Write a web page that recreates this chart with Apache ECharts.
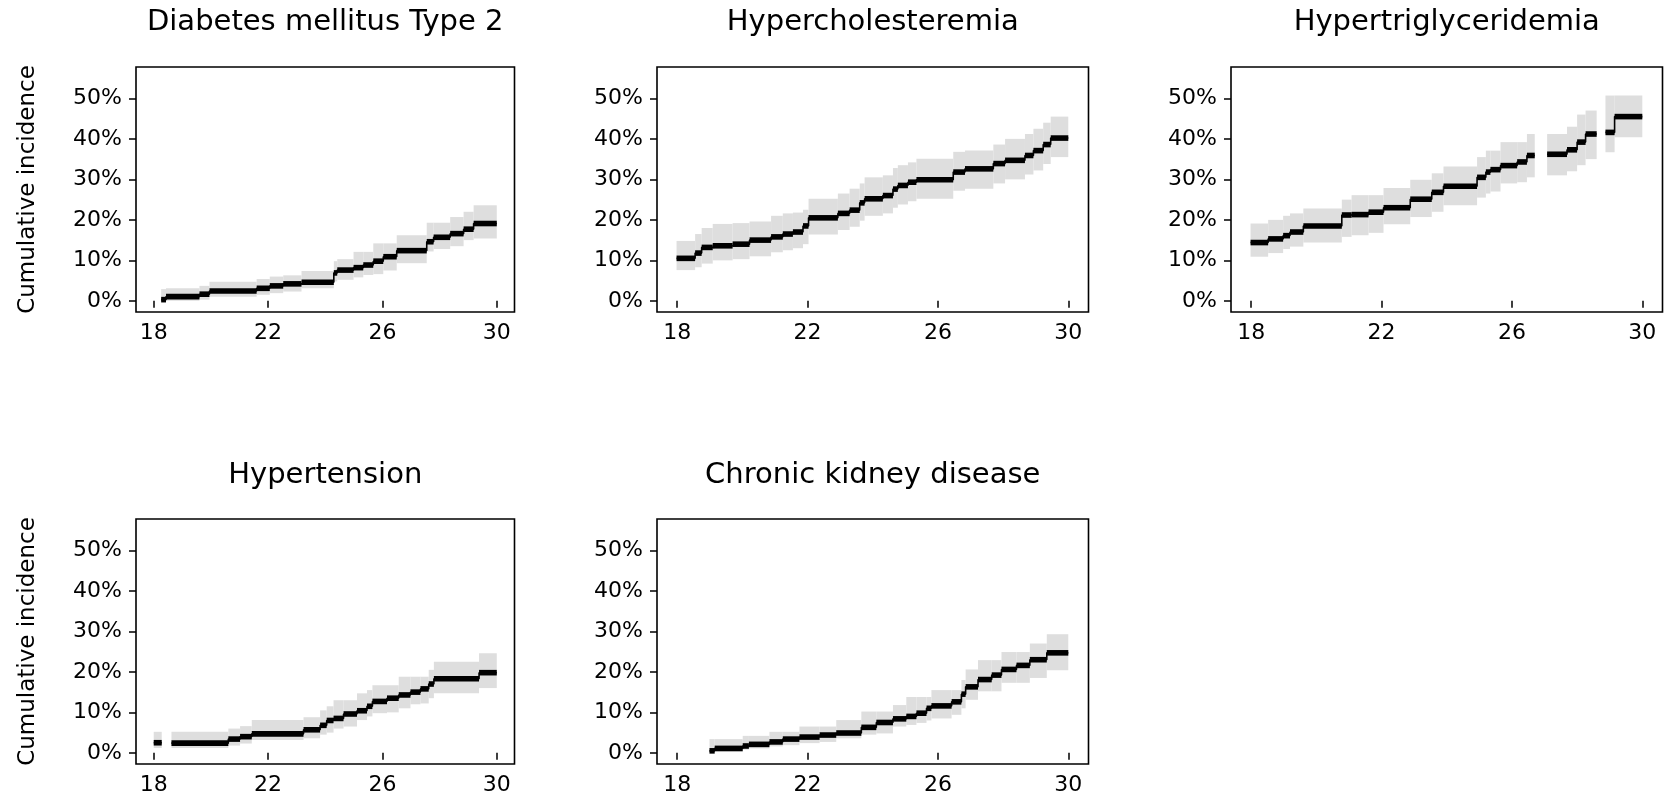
<!DOCTYPE html>
<html>
<head>
<meta charset="utf-8">
<script src="https://cdn.jsdelivr.net/npm/echarts@6/dist/echarts.min.js"></script>
<style>
html,body{margin:0;padding:0;background:#fff;}
#chart{width:1665px;height:801px;}
</style>
</head>
<body>
<div id="chart"></div>
<script>
// ---------------- DATA ----------------
const panelTitles = ["Diabetes mellitus Type 2", "Hypercholesteremia", "Hypertriglyceridemia", "Hypertension", "Chronic kidney disease"];
const yAxisTitle = "Cumulative incidence";
const xTickValues = [18, 22, 26, 30];
const yTickValues = [0, 10, 20, 30, 40, 50];

// Diabetes mellitus Type 2 (age in years, cumulative incidence in %)
const dmTime = [18.26, 18.43, 19.60, 19.95, 21.60, 22.06, 22.53, 23.17, 24.30, 24.42, 24.99, 25.33, 25.68, 26.03, 26.50, 27.55, 27.79, 28.37, 28.84, 29.19, 30.0];
const dmEst  = [0.3, 1.05, 1.65, 2.45, 3.1, 3.7, 4.2, 4.6, 6.9, 7.6, 8.2, 8.85, 9.8, 10.9, 12.4, 14.6, 15.7, 16.6, 17.7, 19.1, 19.1];
const dmUpper = [2.9, 3.1, 3.7, 4.7, 5.4, 6.0, 6.3, 7.4, 9.8, 10.3, 12.1, 12.1, 14.2, 14.2, 16.2, 19.3, 19.3, 20.7, 22.0, 23.6, 23.6];
const dmLower = [0.0, 0.0, 0.3, 1.0, 1.5, 1.9, 2.3, 3.1, 4.8, 5.2, 5.8, 6.4, 6.6, 7.5, 9.3, 12.2, 12.8, 13.5, 15.0, 15.4, 15.4];

// Hypercholesteremia
const hcTime = [17.98, 18.55, 18.75, 19.09, 19.70, 20.22, 20.88, 21.24, 21.55, 21.86, 22.03, 22.93, 23.29, 23.60, 23.75, 24.31, 24.62, 24.77, 25.08, 25.34, 26.47, 26.83, 27.70, 28.06, 28.67, 28.93, 29.23, 29.46, 30.0];
const hcEst  = [10.5, 11.8, 13.2, 13.6, 14.0, 15.0, 15.8, 16.5, 17.0, 18.5, 20.5, 21.6, 22.4, 24.2, 25.2, 26.0, 27.6, 28.5, 29.3, 29.9, 31.8, 32.6, 33.9, 34.7, 35.9, 37.1, 38.6, 40.2, 40.2];
const hcUpper = [14.8, 16.5, 18.0, 19.0, 19.2, 19.6, 21.0, 21.6, 21.8, 22.5, 25.2, 26.5, 27.7, 29.0, 30.5, 31.0, 32.8, 33.5, 34.2, 35.1, 36.8, 37.1, 38.6, 40.0, 41.2, 42.5, 44.0, 45.5, 45.5];
const hcLower = [7.6, 8.3, 9.2, 10.0, 10.3, 11.0, 12.0, 12.5, 13.0, 14.0, 16.4, 17.5, 18.3, 19.8, 21.0, 21.6, 23.0, 23.8, 24.6, 25.2, 27.2, 27.7, 29.0, 30.0, 31.2, 32.2, 33.8, 35.5, 35.5];

// Hypertriglyceridemia (null = no estimate shown)
const htgTime = [17.98, 18.52, 18.98, 19.19, 19.60, 20.78, 21.08, 21.60, 22.06, 22.88, 23.54, 23.90, 24.93, 25.20, 25.34, 25.65, 26.16, 26.46, 26.70, 27.08, 27.69, 28.00, 28.26, 28.60, 28.87, 29.15, 30.0];
const htgEst  = [14.4, 15.3, 16.1, 17.0, 18.5, 21.2, 21.3, 21.9, 23.0, 25.1, 26.8, 28.3, 30.5, 31.8, 32.4, 33.4, 34.3, 35.9, null, 36.2, 37.3, 39.2, 41.2, null, 41.6, 45.5, 45.5];
const htgUpper = [19.1, 20.0, 21.0, 21.6, 22.8, 25.0, 26.1, 26.1, 27.9, 29.9, 31.5, 33.2, 35.5, 37.1, 37.1, 39.2, 39.2, 41.2, null, 41.2, 43.0, 46.0, 47.0, null, 50.7, 50.7, 50.7];
const htgLower = [10.9, 11.8, 12.8, 13.4, 14.4, 15.8, 16.2, 16.8, 18.9, 20.7, 22.0, 23.6, 25.5, 26.5, 27.0, 29.0, 29.3, 30.5, null, 31.0, 32.0, 33.5, 35.0, null, 36.7, 40.4, 40.4];

// Hypertension
const htnTime = [18.00, 18.28, 18.62, 20.61, 21.02, 21.43, 23.24, 23.82, 24.05, 24.29, 24.64, 25.11, 25.46, 25.65, 26.16, 26.57, 26.98, 27.33, 27.62, 27.80, 29.38, 30.0];
const htnEst  = [2.5, null, 2.4, 3.4, 4.0, 4.7, 5.7, 6.8, 8.0, 8.5, 9.6, 10.4, 11.5, 12.7, 13.5, 14.3, 15.0, 15.8, 17.0, 18.3, 19.8, 19.8];
const htnUpper = [5.2, null, 5.2, 6.0, 6.6, 8.1, 8.8, 10.5, 11.5, 13.0, 13.0, 14.7, 15.5, 16.7, 16.7, 18.8, 18.8, 18.8, 20.5, 22.5, 24.6, 24.6];
const htnLower = [1.2, null, 1.2, 1.8, 2.3, 3.2, 3.6, 4.5, 5.0, 6.0, 6.5, 8.1, 9.0, 9.8, 10.0, 11.0, 12.0, 12.2, 13.5, 14.7, 16.0, 16.0];

// Chronic kidney disease
const ckdTime = [18.99, 19.15, 20.01, 20.20, 20.83, 21.24, 21.75, 22.37, 22.88, 23.65, 24.11, 24.62, 25.03, 25.34, 25.65, 25.80, 26.42, 26.72, 26.85, 27.23, 27.65, 27.95, 28.41, 28.82, 29.34, 30.0];
const ckdEst  = [0.5, 1.1, 1.7, 2.1, 2.7, 3.4, 3.9, 4.4, 4.9, 6.3, 7.5, 8.4, 9.0, 9.8, 11.0, 11.6, 12.6, 14.5, 16.3, 18.1, 19.2, 20.6, 21.6, 23.0, 24.7, 24.7];
const ckdUpper = [3.4, 3.4, 4.2, 4.2, 5.2, 5.2, 6.5, 6.5, 8.1, 10.2, 10.2, 11.8, 13.8, 13.8, 13.8, 15.5, 15.5, 18.0, 20.6, 22.9, 22.9, 24.9, 24.9, 27.0, 29.3, 29.3];
const ckdLower = [0.1, 0.2, 0.8, 1.1, 1.6, 1.9, 2.4, 2.7, 3.6, 4.5, 4.8, 6.5, 6.9, 7.4, 8.0, 8.5, 9.4, 11.0, 13.1, 15.2, 15.2, 17.3, 17.3, 18.5, 20.4, 20.4];

// ---------------- LAYOUT ----------------
const FONT = "DejaVu Sans";
const colLeft = [136, 657, 1231];
const colWidth = [378.5, 431.5, 431.5];
const rowTop = [67, 519];
const boxHeight = 245;
const titleCenterY = [22, 475];

const panels = [
  {title: panelTitles[0], row: 0, col: 0, t: dmTime, v: dmEst, hi: dmUpper, lo: dmLower, yTitle: true},
  {title: panelTitles[1], row: 0, col: 1, t: hcTime, v: hcEst, hi: hcUpper, lo: hcLower, yTitle: false},
  {title: panelTitles[2], row: 0, col: 2, t: htgTime, v: htgEst, hi: htgUpper, lo: htgLower, yTitle: false},
  {title: panelTitles[3], row: 1, col: 0, t: htnTime, v: htnEst, hi: htnUpper, lo: htnLower, yTitle: true},
  {title: panelTitles[4], row: 1, col: 1, t: ckdTime, v: ckdEst, hi: ckdUpper, lo: ckdLower, yTitle: false}
];

function bandRender(params, api) {
  const a = api.coord([api.value(0), api.value(3)]);
  const b = api.coord([api.value(1), api.value(2)]);
  return {type: 'rect', shape: {x: a[0], y: a[1], width: b[0] - a[0], height: b[1] - a[1]},
          style: {fill: '#dedede'}};
}
function thickRender(params, api) {
  const a = api.coord([api.value(0), api.value(2)]);
  const b = api.coord([api.value(1), api.value(2)]);
  return {type: 'rect', shape: {x: a[0], y: a[1] - 2.8, width: b[0] - a[0], height: 5.6},
          style: {fill: '#000'}};
}

const grid = [], xAxis = [], yAxis = [], series = [], title = [];
panels.forEach((p, i) => {
  const left = colLeft[p.col], width = colWidth[p.col], top = rowTop[p.row];
  grid.push({left: left, top: top, width: width, height: boxHeight, show: true,
             borderColor: '#000', borderWidth: 1.6, backgroundColor: 'transparent', containLabel: false});
  xAxis.push({gridIndex: i, type: 'value', min: 17.38, max: 30.62,
    axisLine: {show: false}, splitLine: {show: false},
    axisTick: {show: true, length: 7, lineStyle: {color: '#000', width: 1.5}, customValues: xTickValues},
    axisLabel: {customValues: xTickValues, fontSize: 22, color: '#000', fontFamily: FONT, margin: 10}
  });
  yAxis.push({gridIndex: i, type: 'value', min: -2.75, max: 57.75,
    name: p.yTitle ? yAxisTitle : '', nameLocation: 'middle', nameRotate: 90, nameGap: 96,
    nameTextStyle: {fontSize: 23, color: '#000', fontFamily: FONT},
    axisLine: {show: false}, splitLine: {show: false},
    axisTick: {show: true, length: 7, lineStyle: {color: '#000', width: 1.5}, customValues: yTickValues},
    axisLabel: {customValues: yTickValues, fontSize: 22, color: '#000', fontFamily: FONT, margin: 14,
                formatter: v => v + '%'}
  });
  title.push({text: p.title, left: left + width / 2, top: titleCenterY[p.row] - 17, textAlign: 'center',
    padding: 0,
    textStyle: {fontSize: 29, fontWeight: 'normal', color: '#000', fontFamily: FONT, lineHeight: 34}});

  const band = [], thick = [], stepLine = [];
  for (let k = 0; k < p.t.length; k++) {
    stepLine.push([p.t[k], p.v[k] === null ? '-' : p.v[k]]);
    if (k < p.t.length - 1 && p.v[k] !== null) {
      band.push([p.t[k], p.t[k + 1], p.lo[k], p.hi[k]]);
      thick.push([p.t[k], p.t[k + 1], p.v[k]]);
    }
  }
  series.push({type: 'custom', xAxisIndex: i, yAxisIndex: i, renderItem: bandRender, data: band,
               encode: {x: [0, 1], y: [2, 3]}, silent: true, z: 1});
  series.push({type: 'line', xAxisIndex: i, yAxisIndex: i, data: stepLine, step: 'end', showSymbol: false,
               symbol: 'none', connectNulls: false, lineStyle: {color: '#000', width: 1.6}, silent: true, z: 2});
  series.push({type: 'custom', xAxisIndex: i, yAxisIndex: i, renderItem: thickRender, data: thick,
               encode: {x: [0, 1], y: [2]}, silent: true, z: 3});
});

const chart = echarts.init(document.getElementById('chart'));
chart.setOption({animation: false, backgroundColor: '#fff', title, grid, xAxis, yAxis, series});
</script>
</body>
</html>
